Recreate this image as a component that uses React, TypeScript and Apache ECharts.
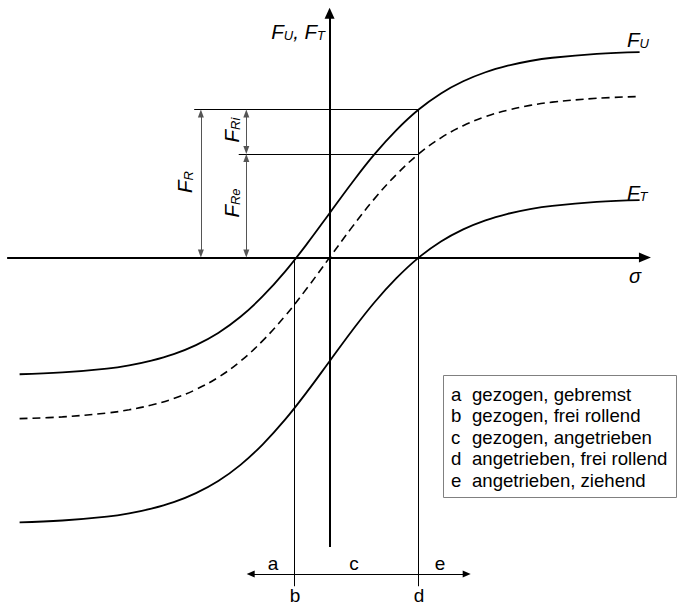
import { useEffect, useRef } from 'react';
import * as echarts from 'echarts';

// Slip σ and the three force curves (circumferential force F_U, its mid line, tangential force F_T)
const sigma = [
  -3.48, -3, -2.5, -2.25, -2, -1.75, -1.5, -1.25, -1, -0.75, -0.5, -0.25, 0,
  0.25, 0.5, 0.75, 1, 1.25, 1.5, 1.75, 2, 2.25, 2.5, 3, 3.48,
];
const forceU = [
  -0.788, -0.776, -0.75, -0.728, -0.696, -0.652, -0.591, -0.509, -0.4, -0.261, -0.095, 0.096, 0.3,
  0.504, 0.695, 0.861, 1.0, 1.109, 1.191, 1.252, 1.296, 1.328, 1.35, 1.376, 1.388,
];
const forceMid = [
  -1.088, -1.076, -1.05, -1.028, -0.996, -0.952, -0.891, -0.809, -0.7, -0.561, -0.395, -0.204, 0.0,
  0.204, 0.395, 0.561, 0.7, 0.809, 0.891, 0.952, 0.996, 1.028, 1.05, 1.076, 1.088,
];
const forceT = [
  -1.788, -1.776, -1.75, -1.728, -1.696, -1.652, -1.591, -1.509, -1.4, -1.261, -1.095, -0.904, -0.7,
  -0.496, -0.305, -0.139, 0.0, 0.109, 0.191, 0.252, 0.296, 0.328, 0.35, 0.376, 0.388,
];

// Operating points b (free rolling, pulled) and d (free rolling, driven)
const sigmaB = -0.4;
const sigmaD = 1.0;
const rollingForce = 1.0; // F_R
const rollingForceExt = 0.7; // F_Re

const legendKeys = ['a', 'b', 'c', 'd', 'e'];
const legendTexts = [
  'gezogen, gebremst',
  'gezogen, frei rollend',
  'gezogen, angetrieben',
  'angetrieben, frei rollend',
  'angetrieben, ziehend',
];

const FONT = '"Liberation Sans", Arial, Helvetica, sans-serif';

const zip = (xs: number[], ys: number[]) => xs.map((x, i) => [x, ys[i]]);

const rich = {
  f: { fontFamily: FONT, fontStyle: 'italic', fontSize: 20.5, lineHeight: 22, fill: '#000' },
  s: { fontFamily: FONT, fontStyle: 'italic', fontSize: 13, lineHeight: 14, verticalAlign: 'bottom', fill: '#000' },
};

const tri = (w: number, h: number) => ({ symbol: 'triangle', symbolSize: [w, h] });

function buildOption() {
  const thin = { type: 'solid', color: '#000', width: 1 };
  const grey = { type: 'solid', color: '#555', width: 1 };
  const axis = { type: 'solid', color: '#000', width: 2 };

  const markLines = [
    // σ axis
    [{ coord: [-3.62, 0], symbol: 'none', lineStyle: axis }, { coord: [3.54, 0], ...tri(10, 12) }],
    // F axis
    [{ coord: [0, -1.955], symbol: 'none', lineStyle: axis }, { coord: [0, 1.65], ...tri(10, 11) }],
    // verticals at b and d
    [{ coord: [sigmaB, 0], symbol: 'none', lineStyle: thin }, { coord: [sigmaB, -2.22], symbol: 'none' }],
    [{ coord: [sigmaD, rollingForce], symbol: 'none', lineStyle: thin }, { coord: [sigmaD, -2.22], symbol: 'none' }],
    // horizontals from d
    [{ coord: [-1.52, rollingForce], symbol: 'none', lineStyle: thin }, { coord: [sigmaD, rollingForce], symbol: 'none' }],
    [{ coord: [-1.02, rollingForceExt], symbol: 'none', lineStyle: thin }, { coord: [sigmaD, rollingForceExt], symbol: 'none' }],
    // F_R
    [{ coord: [-1.445, 0.027], ...tri(6, 8), lineStyle: grey }, { coord: [-1.445, rollingForce - 0.027], ...tri(6, 8) }],
    // F_Ri
    [{ coord: [-0.935, rollingForceExt + 0.027], ...tri(6, 8), lineStyle: grey }, { coord: [-0.935, rollingForce - 0.027], ...tri(6, 8) }],
    // F_Re
    [{ coord: [-0.935, 0.027], ...tri(6, 8), lineStyle: grey }, { coord: [-0.935, rollingForceExt - 0.027], ...tri(6, 8) }],
    // range arrow a / c / e
    [{ coord: [-0.886, -2.137], ...tri(7, 8), lineStyle: thin }, { coord: [1.539, -2.137], ...tri(7, 8) }],
  ];

  const txt = (x: number, y: number, text: string, extra: any = {}) => ({
    type: 'text',
    x,
    y,
    silent: true,
    ...extra,
    style: {
      text,
      fontFamily: FONT,
      fontSize: 19,
      fill: '#000',
      align: 'center',
      verticalAlign: 'middle',
      ...(extra.style || {}),
    },
  });

  const graphic: any[] = [
    txt(325, 31, '{f|F}{s|U}{f|, F}{s|T}', { style: { rich, align: 'right' } }),
    txt(627, 39, '{f|F}{s|U}', { style: { rich, align: 'left' } }),
    txt(627, 192, '{f|F}{s|T}', { style: { rich, align: 'left' } }),
    txt(635, 276, 'σ', { style: { fontStyle: 'italic', fontSize: 20 } }),
    txt(184, 182, '{f|F}{s|R}', { rotation: Math.PI / 2, style: { rich } }),
    txt(231, 130, '{f|F}{s|Ri}', { rotation: Math.PI / 2, style: { rich } }),
    txt(231, 203, '{f|F}{s|Re}', { rotation: Math.PI / 2, style: { rich } }),
    txt(273, 563, 'a'),
    txt(354, 563, 'c'),
    txt(440, 563, 'e'),
    txt(295, 595, 'b'),
    txt(419, 595, 'd'),
    {
      type: 'rect',
      silent: true,
      shape: { x: 443.5, y: 375.5, width: 233, height: 122 },
      style: { fill: '#fff', stroke: '#808080', lineWidth: 1 },
    },
  ];
  legendKeys.forEach((k, i) => {
    const y = 394 + i * 21.6;
    graphic.push(txt(451, y, k, { style: { align: 'left', fontSize: 18.6 } }));
    graphic.push(txt(472, y, legendTexts[i], { style: { align: 'left', fontSize: 18.6 } }));
  });

  const curve = (name: string, ys: number[], dashed = false) => ({
    type: 'line',
    name,
    data: zip(sigma, ys),
    smooth: 0.4,
    symbol: 'none',
    silent: true,
    lineStyle: { color: '#000', width: dashed ? 1.6 : 1.8, type: dashed ? [8, 5] : 'solid' },
  });

  return {
    animation: false,
    backgroundColor: '#fff',
    grid: { left: 0, right: 0, top: 0, bottom: 0 },
    xAxis: { type: 'value', min: -3.7, max: 3.9, show: false },
    yAxis: { type: 'value', min: -2.34, max: 1.74, show: false },
    series: [
      {
        ...curve('F_U', forceU),
        markLine: {
          silent: true,
          animation: false,
          symbol: ['none', 'none'],
          label: { show: false },
          emphasis: { disabled: true },
          lineStyle: thin,
          data: markLines,
        },
      },
      curve('F_mid', forceMid, true),
      curve('F_T', forceT),
    ],
    graphic,
  };
}

export default function App() {
  const ref = useRef<HTMLDivElement>(null);
  useEffect(() => {
    const chart = echarts.init(ref.current!, null, { renderer: 'svg' });
    chart.setOption(buildOption() as any);
    return () => chart.dispose();
  }, []);
  return (
    <div
      ref={ref}
      style={{ position: 'absolute', left: 0, top: 0, width: 677, height: 604, background: '#fff' }}
    />
  );
}
